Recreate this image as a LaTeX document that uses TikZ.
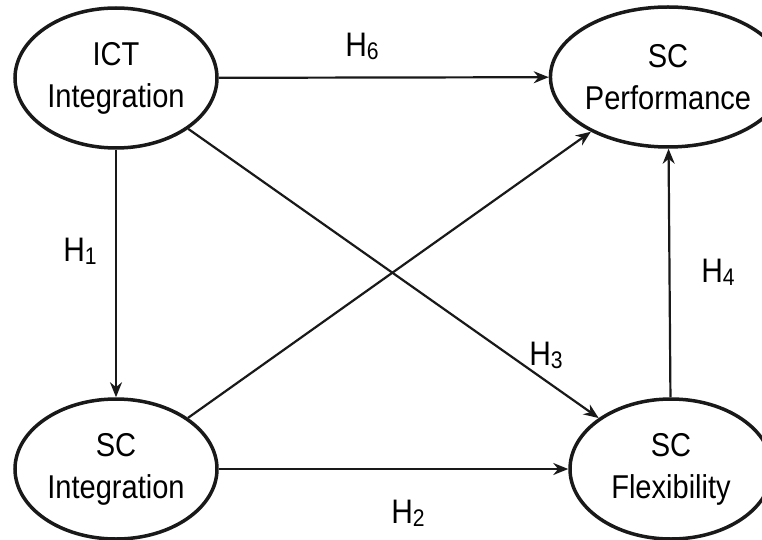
\documentclass[tikz,border=0pt]{standalone}
\usepackage{fontspec}
\setmainfont{Liberation Sans}[FakeStretch=0.88]
\usetikzlibrary{arrows.meta,shapes.geometric}

\newcommand{\hyplabel}[1]{H\raisebox{-3pt}{\fontsize{24}{24}\selectfont #1}}

\tikzset{
  construct/.style={draw=black!90, line width=3.5pt, ellipse, minimum width=202pt,
    minimum height=140pt, inner sep=0pt, align=center,
    font=\fontsize{33}{42}\selectfont},
  link/.style={draw=black!90, line width=2.2pt, -{Stealth[length=15pt,width=12pt]}},
  hyp/.style={font=\fontsize{34}{36}\selectfont, inner sep=0pt}
}

\begin{document}
\begin{tikzpicture}[x=1pt,y=1pt]
    \useasboundingbox (0,0) rectangle (762,539);
    \node[construct] (ict) at (116,461) {ICT\\Integration};
    \node[construct] (perf) at (668,462) {SC\\Performance};
    \node[construct] (sci) at (116,70) {SC\\Integration};
    \node[construct] (flex) at (671,70) {SC\\Flexibility};
    \draw[link] (ict) -- (perf);
    \draw[link] (ict) -- (sci);
    \draw[link] (ict) -- (flex);
    \draw[link] (sci) -- (perf);
    \draw[link] (sci) -- (flex);
    \draw[link] (flex) -- (perf);
    \node[hyp] (h6) at (362,493) {\hyplabel{6}};
    \node[hyp] (h1) at (80,288) {\hyplabel{1}};
    \node[hyp] (h3) at (546,184) {\hyplabel{3}};
    \node[hyp] (h4) at (718,267) {\hyplabel{4}};
    \node[hyp] (h2) at (408,26) {\hyplabel{2}};
  \end{tikzpicture}
\end{document}
